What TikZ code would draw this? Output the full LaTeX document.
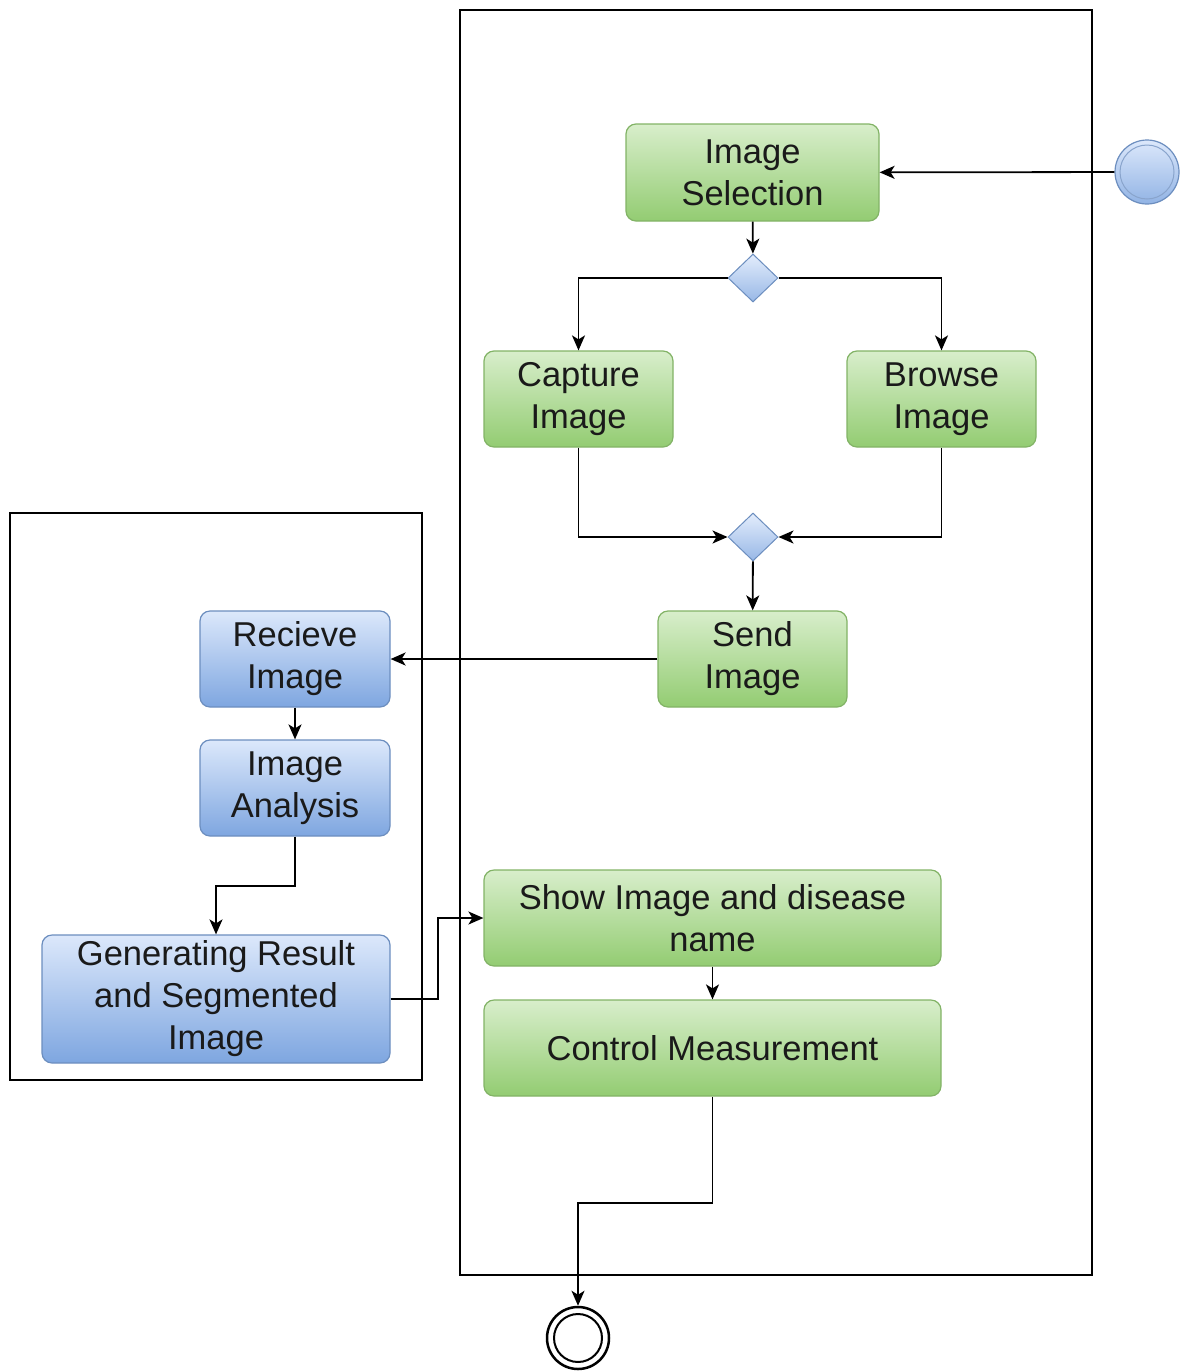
\documentclass[tikz,border=0pt]{standalone}
\usepackage{fontspec}
\setmainfont{Liberation Sans}
\usetikzlibrary{arrows.meta,shapes.geometric}
\definecolor{gTop}{HTML}{D8EECB}
\definecolor{gBot}{HTML}{93CC72}
\definecolor{gLine}{HTML}{82B366}
\definecolor{bTop}{HTML}{DCE8FB}
\definecolor{bBot}{HTML}{7EA6E0}
\definecolor{bLine}{HTML}{6C8EBF}
\definecolor{txt}{HTML}{1A1A1A}
\tikzset{
  act/.style={rectangle, rounded corners=10pt, line width=1.2pt, inner sep=0pt,
    align=center, text=txt, font=\fontsize{34.5}{42}\selectfont},
  gact/.style={act, draw=gLine, top color=gTop, bottom color=gBot},
  bact/.style={act, draw=bLine, top color=bTop, bottom color=bBot},
  choice/.style={diamond, draw=bLine, line width=1pt, inner sep=0pt,
    minimum width=50pt, minimum height=48pt, top color=bTop!80!white, bottom color=bBot!80!white},
  arr/.style={line width=1.8pt, draw=black, -{Stealth[length=15pt,width=13pt,inset=4pt]}},
  lane/.style={draw=black, line width=1.4pt}
}
\begin{document}
\begin{tikzpicture}[x=1pt,y=-1pt]
  \useasboundingbox (0,0) rectangle (1180,1371);
  % swimlanes
  \draw[lane] (460,10) rectangle (1092,1275);
  \draw[lane] (10,513) rectangle (422,1080);

  % initial and final states
  \node[circle, draw=bLine, line width=1.2pt, minimum size=64pt, inner sep=0pt,
        top color=bTop, bottom color=bBot!85!white] (start) at (1147,172) {};
  \draw[bLine!80!white, line width=1pt] (start.center) circle (27pt);
  \node[circle, draw=black, line width=2.5pt, minimum size=62pt, inner sep=0pt, fill=white] (end) at (578,1338) {};
  \draw[black, line width=2pt] (end.center) circle (24pt);

  % actions
  \node[gact, minimum width=253pt, minimum height=97pt] (sel) at (752.5,172.5) {Image\\Selection};
  \node[choice] (d1) at (753,278) {};
  \node[gact, minimum width=189pt, minimum height=96pt] (cap) at (578.5,399) {Capture\\Image};
  \node[gact, minimum width=189pt, minimum height=96pt] (brw) at (941.5,399) {Browse\\Image};
  \node[choice] (d2) at (753,537) {};
  \node[gact, minimum width=189pt, minimum height=96pt] (send) at (752.5,659) {Send\\Image};
  \node[bact, minimum width=190pt, minimum height=96pt] (recv) at (295,659) {Recieve\\Image};
  \node[bact, minimum width=190pt, minimum height=96pt] (anal) at (295,788) {Image\\Analysis};
  \node[bact, minimum width=348pt, minimum height=128pt] (gen) at (216,999) {Generating Result\\and Segmented\\Image};
  \node[gact, minimum width=457pt, minimum height=96pt] (show) at (712.5,918) {Show Image and disease\\name};
  \node[gact, minimum width=457pt, minimum height=96pt] (ctrl) at (712.5,1048) {Control Measurement};

  % control flow
  \draw[arr] (start) -- (sel);
  \draw[arr] (sel) -- (d1);
  \draw[arr] (d1.west) -| (cap.north);
  \draw[arr] (d1.east) -| (brw.north);
  \draw[arr] (cap.south) |- (d2.west);
  \draw[arr] (brw.south) |- (d2.east);
  \draw[arr] (d2) -- (send);
  \draw[arr] (send) -- (recv);
  \draw[arr] (recv) -- (anal);
  \draw[arr] (anal.south) -- ++(0,49) -| (gen.north);
  \draw[arr] (gen.east) -- ++(47,0) |- (show.west);
  \draw[arr] (show) -- (ctrl);
  \draw[arr] (ctrl.south) -- ++(0,106) -| (end.north);
\end{tikzpicture}
\end{document}
